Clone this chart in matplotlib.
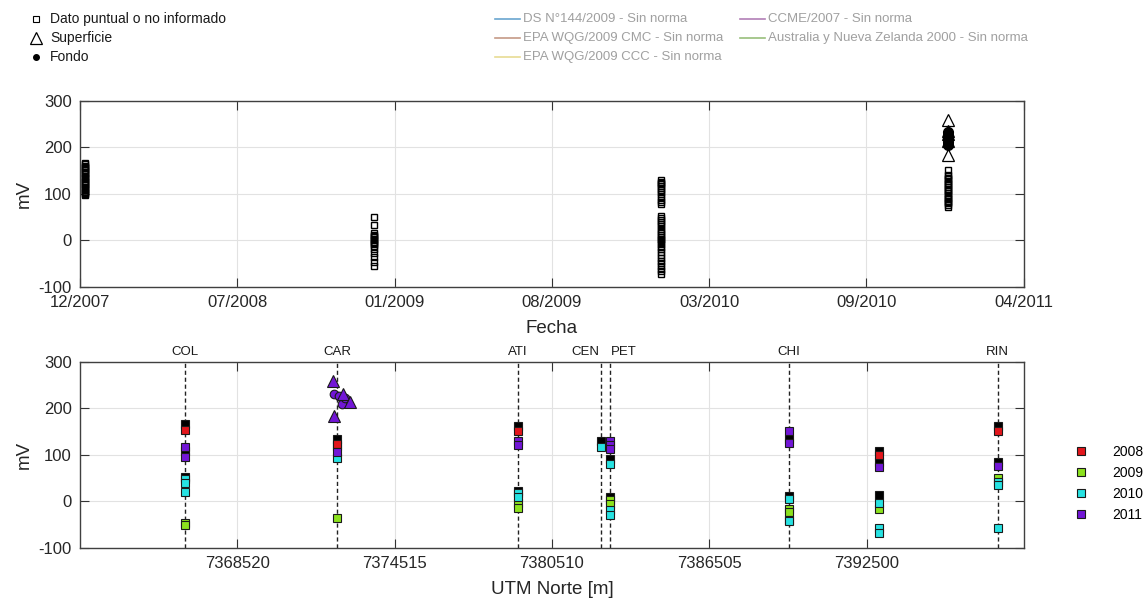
import numpy as np
import matplotlib
matplotlib.use("Agg")
import matplotlib.pyplot as plt
import matplotlib.dates as mdates
from matplotlib.lines import Line2D
import datetime as dt

plt.rcParams['font.family'] = ['Liberation Sans', 'DejaVu Sans']
plt.rcParams['axes.unicode_minus'] = False

# ---------------- data: top panel (time series) ----------------
date_c1 = dt.datetime(2007, 12, 17)
date_c2 = dt.datetime(2008, 12, 27)
date_c3 = dt.datetime(2010, 1, 5)
date_c4 = dt.datetime(2011, 1, 14)

sq_c1 = [97, 99, 102, 104, 107, 110, 112, 115, 118, 120, 123, 126, 128, 131,
         134, 136, 139, 142, 144, 147, 150, 152, 155, 158, 160, 163, 166]
sq_c2 = [49, 33, 15, 12, 9, 6, 3, 0, -3, -6, -9, -12, -19, -28, -37, -46, -55]
sq_c3 = [129, 126, 123, 120, 117, 113, 109, 104, 99, 93, 87, 82, 77,
         52, 48, 44, 40, 35, 30, 25, 20, 15, 11, 7, 3, 0, -4, -9, -15, -20,
         -26, -31, -38, -44, -50, -55, -61, -67, -73]
sq_c4 = [151, 140, 137, 134, 131, 127, 124, 121, 118, 115, 111, 108, 105, 101,
         98, 95, 91, 88, 85, 82, 79, 75, 72]
tri_c4 = [259, 235, 228, 214, 183]
dot_c4 = [233, 226, 219, 211, 204]

date_ticks_start = dt.datetime(2007, 12, 10)
date_tick_step_days = 205
n_date_ticks = 7

# ---------------- data: bottom panel (by UTM north) ----------------
station_names = ["COL", "CAR", "ATI", "CEN", "PET", "CHI", "RIN"]
station_utm = [7366515, 7372333, 7379220, 7382383, 7382715, 7389549, 7397489]
utm_unnamed = 7392953

utm_ticks = [7368520, 7374515, 7380510, 7386505, 7392500]
utm_limits = [7362525, 7398495]

# black squares (unlabelled series)
blk_x = [7366515, 7366515, 7366515, 7372333, 7372333, 7379220, 7379220,
         7382383, 7382715, 7382715, 7389549, 7389549,
         7392953, 7392953, 7392953, 7397489, 7397489]
blk_y = [166, 109, 53, 133, 119, 162, 23,
         130, 91, 8, 134, 11,
         109, 85, 13, 162, 85]

# 2008
y08_x = [7366515, 7372333, 7379220, 7392953, 7397489]
y08_y = [153, 123, 152, 99, 150]
# 2009
y09_x = [7366515, 7366515, 7372333, 7379220, 7379220, 7382715, 7382715,
         7389549, 7389549, 7392953, 7397489]
y09_y = [-46, -52, -37, -3, -14, 3, -6, -17, -23, -17, 49]
# 2010
y10_x = [7366515, 7366515, 7366515, 7372333, 7379220, 7379220, 7382383,
         7382715, 7382715, 7382715, 7389549, 7389549, 7389549,
         7392953, 7392953, 7392953, 7397489, 7397489, 7397489]
y10_y = [47, 40, 20, 92, 17, 10, 116,
         80, -19, -30, 4, -40, -43,
         -3, -58, -69, 42, 34, -58]
# 2011 squares
y11_x = [7366515, 7366515, 7372333, 7379220, 7379220, 7382715, 7382715,
         7382715, 7389549, 7389549, 7392953, 7397489]
y11_y = [116, 96, 106, 129, 121, 130, 121, 112, 152, 125, 74, 76]
# 2011 surface (triangles) and bottom (circles) at CAR
y11_tri_x = [7372150, 7372560, 7372820, 7372190]
y11_tri_y = [259, 230, 214, 183]
y11_dot_x = [7372190, 7372380, 7372510, 7372620]
y11_dot_y = [231, 226, 210, 222]

year_labels = ["2008", "2009", "2010", "2011"]
year_colors = ["#e3161c", "#8ce21e", "#27e2e2", "#7216d6"]

legend_marker_labels = ["Dato puntual o no informado", "Superficie", "Fondo"]
norm_labels_col2 = ["DS N°144/2009 - Sin norma", "EPA WQG/2009 CMC - Sin norma",
                    "EPA WQG/2009 CCC - Sin norma"]
norm_colors_col2 = ["#6aa6cf", "#c59a86", "#e8dc93"]
norm_labels_col3 = ["CCME/2007 - Sin norma",
                    "Australia y Nueva Zelanda 2000 - Sin norma"]
norm_colors_col3 = ["#b27fb6", "#98bf7c"]

# ---------------- figure ----------------
W, H = 1147, 601
fig = plt.figure(figsize=(W / 100, H / 100), dpi=100)

def fx(px):
    return px / W

def fy(py):
    return 1 - py / H

ax1 = fig.add_axes([fx(80), fy(286.7), fx(943.7), 186 / H])
ax2 = fig.add_axes([fx(80), fy(547.7), fx(944), 186 / H])

def style(ax):
    ax.tick_params(direction='in', length=6.5, width=0.8, top=True, right=True,
                   labelsize=12, color='#333333', labelcolor='#262626', pad=6)
    for s in ax.spines.values():
        s.set_color('#404040')
        s.set_linewidth(1.0)
    ax.grid(True, color='#e2e2e2', linewidth=0.8)
    ax.set_axisbelow(True)

# ---- top panel ----
style(ax1)
sq_kw = dict(linestyle='none', marker='s', mfc='none', mec='k', ms=4.9, mew=1.0)
ax1.plot([date_c1] * len(sq_c1), sq_c1, **sq_kw)
ax1.plot([date_c2] * len(sq_c2), sq_c2, **sq_kw)
ax1.plot([date_c3] * len(sq_c3), sq_c3, **sq_kw)
ax1.plot([date_c4] * len(sq_c4), sq_c4, **sq_kw)
ax1.plot([date_c4] * len(tri_c4), tri_c4, linestyle='none', marker='^',
         mfc='white', mec='k', ms=9, mew=0.9)
ax1.plot([date_c4] * len(dot_c4), dot_c4, linestyle='none', marker='o',
         mfc='k', mec='k', ms=7)

x0 = mdates.date2num(date_ticks_start)
xt = [x0 + date_tick_step_days * k for k in range(n_date_ticks)]
ax1.set_xlim(xt[0], xt[-1])
ax1.set_xticks(xt)
ax1.xaxis.set_major_formatter(mdates.DateFormatter('%m/%Y'))
ax1.set_ylim(-100, 300)
ax1.set_yticks([-100, 0, 100, 200, 300])
ax1.set_xlabel("Fecha", fontsize=13.5, color='#262626', labelpad=7)
ax1.set_ylabel("mV", fontsize=13.5, color='#262626', labelpad=4)

# ---- bottom panel ----
style(ax2)
for name, xs in zip(station_names, station_utm):
    ax2.axvline(xs, color='#222222', linewidth=1.0, dashes=(3, 2), zorder=1.5)
    ha, off = 'center', 0
    if name == "CEN":
        ha, off = 'right', -1
    elif name == "PET":
        ha, off = 'left', 1
    ax2.annotate(name, xy=(xs, 1), xycoords=('data', 'axes fraction'),
                 xytext=(off, 3), textcoords='offset points', ha=ha, va='bottom',
                 fontsize=9.5, color='#1a1a1a')

bsq = dict(linestyle='none', marker='s', mec='#1a1a1a', ms=5.6, mew=0.8, zorder=3)
ax2.plot(blk_x, blk_y, mfc='black', **bsq)
ax2.plot(y08_x, y08_y, mfc=year_colors[0], **bsq)
ax2.plot(y09_x, y09_y, mfc=year_colors[1], **bsq)
ax2.plot(y10_x, y10_y, mfc=year_colors[2], **bsq)
ax2.plot(y11_x, y11_y, mfc=year_colors[3], **bsq)
ax2.plot(y11_dot_x, y11_dot_y, linestyle='none', marker='o', mfc=year_colors[3],
         mec='#1a1a1a', ms=6.2, mew=0.8, zorder=3)
ax2.plot(y11_tri_x, y11_tri_y, linestyle='none', marker='^', mfc=year_colors[3],
         mec='#1a1a1a', ms=9, mew=0.8, zorder=3)

ax2.set_xlim(*utm_limits)
ax2.set_xticks(utm_ticks)
ax2.set_xticklabels([str(v) for v in utm_ticks])
ax2.set_ylim(-100, 300)
ax2.set_yticks([-100, 0, 100, 200, 300])
ax2.set_xlabel("UTM Norte [m]", fontsize=13.5, color='#262626', labelpad=7)
ax2.set_ylabel("mV", fontsize=13.5, color='#262626', labelpad=4)

# year legend
handles = [Line2D([], [], linestyle='none', marker='s', mfc=c, mec='#1a1a1a',
                  ms=5.6, mew=0.8) for c in year_colors]
fig.legend(handles, year_labels, loc='center left',
           bbox_to_anchor=(fx(1063), fy(483.5)), bbox_transform=fig.transFigure,
           frameon=False, fontsize=10, handlelength=1.0, handletextpad=1.73,
           labelspacing=0.5, borderpad=0.3)

# top legend (manual)
rows = [19, 38, 57]
col2_line = 495
col3_line = 740
mk_specs = [dict(marker='s', mfc='none', mec='k', ms=5, mew=0.8),
            dict(marker='^', mfc='none', mec='k', ms=9, mew=0.9),
            dict(marker='o', mfc='k', mec='k', ms=4)]
for lbl, r, spec in zip(legend_marker_labels, rows, mk_specs):
    fig.add_artist(Line2D([fx(36)], [fy(r)], transform=fig.transFigure,
                          linestyle='none', **spec))
    fig.text(fx(50), fy(r), lbl, fontsize=10, va='center', ha='left',
             color='#1a1a1a')

for lbl, r, c in zip(norm_labels_col2, rows, norm_colors_col2):
    fig.add_artist(Line2D([fx(col2_line), fx(col2_line + 25)], [fy(r), fy(r)],
                          transform=fig.transFigure, color=c, linewidth=1.2))
    fig.text(fx(col2_line + 28), fy(r), lbl, fontsize=9.5, va='center', ha='left',
             color='#a0a0a0')

for lbl, r, c in zip(norm_labels_col3, rows, norm_colors_col3):
    fig.add_artist(Line2D([fx(col3_line), fx(col3_line + 25)], [fy(r), fy(r)],
                          transform=fig.transFigure, color=c, linewidth=1.2))
    fig.text(fx(col3_line + 28), fy(r), lbl, fontsize=9.5, va='center', ha='left',
             color='#a0a0a0')

fig.savefig("out.png", dpi=100)
